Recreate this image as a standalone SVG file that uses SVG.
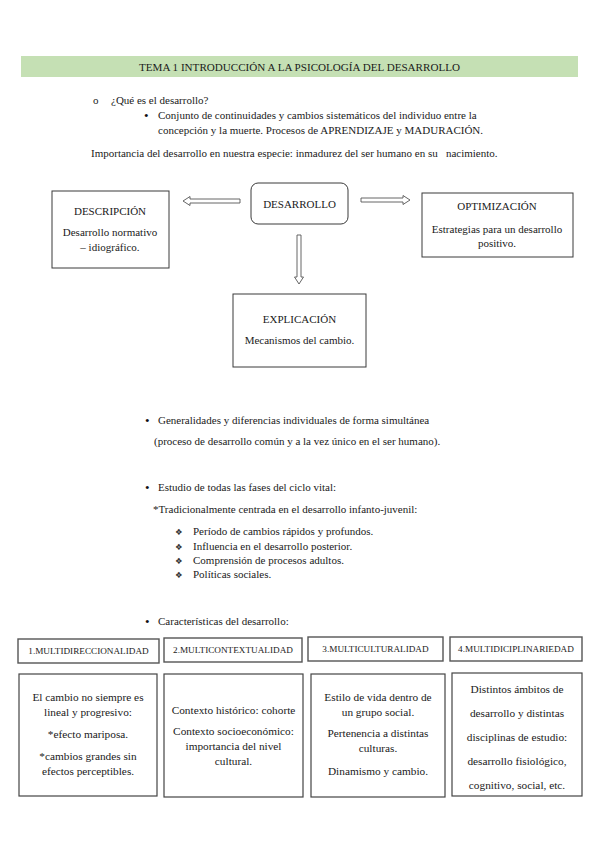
<svg xmlns="http://www.w3.org/2000/svg" width="599" height="848" viewBox="0 0 599 848">
<style>
text{font-family:"Liberation Serif","Times New Roman",serif;fill:#1a1a1a;font-size:11px}
.c{text-anchor:middle}
.b{font-size:13px;fill:#111}
.box{fill:#fff;stroke:#3a3a3a;stroke-width:1}
.hbox{fill:#fff;stroke:#555;stroke-width:1.4}
.cbox{fill:#fff;stroke:#444;stroke-width:1.2}
.arrow{fill:#fff;stroke:#555;stroke-width:0.9;stroke-linejoin:miter}
.sm{font-size:9.2px}
.bt{font-size:11.3px}
.dia{font-family:"DejaVu Sans",sans-serif;font-size:8.5px;fill:#333}
</style>
<rect x="21" y="56" width="557" height="21" fill="#c5e0b4"/>
<text x="299.5" y="70.5" class="c" style="font-size:11.1px">TEMA 1 INTRODUCCIÓN A LA PSICOLOGÍA DEL DESARROLLO</text>

<text x="93" y="104">o</text>
<text x="111" y="104">¿Qué es el desarrollo?</text>
<text x="144" y="119.5" class="b">•</text>
<text x="158" y="119">Conjunto de continuidades y cambios sistemáticos del individuo entre la</text>
<text x="158" y="134">concepción y la muerte. Procesos de APRENDIZAJE y MADURACIÓN.</text>
<text x="91" y="157" xml:space="preserve">Importancia del desarrollo en nuestra especie: inmadurez del ser humano en su   nacimiento.</text>

<g id="connectors">
<polygon class="arrow" points="240,199 190,199 190,196.5 183,201 190,205.5 190,203 240,203"/>
<polygon class="arrow" points="361,198 403,198 403,195.5 410,200 403,204.5 403,202 361,202"/>
<polygon class="arrow" points="297,235 301,235 301,277 303.5,277 299,284 294.5,277 297,277"/>
</g>

<g id="desarrollo">
<rect class="box" x="251" y="183" width="97" height="41" rx="7"/>
<text x="299.5" y="208" class="c">DESARROLLO</text>
</g>
<g id="descripcion">
<rect class="box" x="52" y="191" width="117" height="77"/>
<text x="110" y="215" class="c">DESCRIPCIÓN</text>
<text x="110" y="236" class="c">Desarrollo normativo</text>
<text x="110" y="251" class="c">– idiográfico.</text>
</g>
<g id="optimizacion">
<rect class="box" x="422" y="193" width="151" height="64"/>
<text x="497" y="210" class="c">OPTIMIZACIÓN</text>
<text x="497" y="233" class="c">Estrategias para un desarrollo</text>
<text x="497" y="247" class="c">positivo.</text>
</g>
<g id="explicacion">
<rect class="box" x="233" y="294" width="133" height="73"/>
<text x="299.5" y="323" class="c">EXPLICACIÓN</text>
<text x="299.5" y="344" class="c">Mecanismos del cambio.</text>
</g>

<text x="145" y="424.5" class="b">•</text>
<text x="158" y="424">Generalidades y diferencias individuales de forma simultánea</text>
<text x="154" y="445">(proceso de desarrollo común y a la vez único en el ser humano).</text>
<text x="145" y="491.5" class="b">•</text>
<text x="158" y="491">Estudio de todas las fases del ciclo vital:</text>
<text x="153" y="513">*Tradicionalmente centrada en el desarrollo infanto-juvenil:</text>
<text x="175" y="535" class="dia">❖</text>
<text x="193" y="535">Período de cambios rápidos y profundos.</text>
<text x="175" y="550" class="dia">❖</text>
<text x="193" y="550">Influencia en el desarrollo posterior.</text>
<text x="175" y="564" class="dia">❖</text>
<text x="193" y="564">Comprensión de procesos adultos.</text>
<text x="175" y="578" class="dia">❖</text>
<text x="193" y="578">Políticas sociales.</text>

<text x="145" y="625.5" class="b">•</text>
<text x="158" y="625">Características del desarrollo:</text>

<g id="multidireccionalidad">
<rect class="hbox" x="18" y="639" width="141" height="24"/>
<text x="88.5" y="654" class="c sm">1.MULTIDIRECCIONALIDAD</text>
<rect class="cbox" x="19" y="674" width="138" height="122"/>
<text x="88" y="701" class="c bt">El cambio no siempre es</text>
<text x="88" y="716" class="c bt">lineal y progresivo:</text>
<text x="88" y="738" class="c bt">*efecto mariposa.</text>
<text x="88" y="760" class="c bt">*cambios grandes sin</text>
<text x="88" y="775" class="c bt">efectos perceptibles.</text>
</g>
<g id="multicontextualidad">
<rect class="hbox" x="164" y="638" width="138" height="24"/>
<text x="233" y="653" class="c sm">2.MULTICONTEXTUALIDAD</text>
<rect class="cbox" x="164" y="674" width="139" height="123"/>
<text x="233.5" y="714" class="c bt">Contexto histórico: cohorte</text>
<text x="233.5" y="735" class="c bt">Contexto socioeconómico:</text>
<text x="233.5" y="750" class="c bt">importancia del nivel</text>
<text x="233.5" y="765" class="c bt">cultural.</text>
</g>
<g id="multiculturalidad">
<rect class="hbox" x="308" y="637" width="135" height="24"/>
<text x="375.5" y="652" class="c sm">3.MULTICULTURALIDAD</text>
<rect class="cbox" x="311" y="674" width="134" height="123"/>
<text x="378" y="701" class="c bt">Estilo de vida dentro de</text>
<text x="378" y="716" class="c bt">un grupo social.</text>
<text x="378" y="737" class="c bt">Pertenencia a distintas</text>
<text x="378" y="752" class="c bt">culturas.</text>
<text x="378" y="775" class="c bt">Dinamismo y cambio.</text>
</g>
<g id="multidisciplinariedad">
<rect class="hbox" x="450" y="637" width="132" height="24"/>
<text x="516" y="652" class="c sm">4.MULTIDICIPLINARIEDAD</text>
<rect class="cbox" x="452" y="673" width="130" height="123"/>
<text x="517" y="693" class="c bt">Distintos ámbitos de</text>
<text x="517" y="717" class="c bt">desarrollo y distintas</text>
<text x="517" y="741" class="c bt">disciplinas de estudio:</text>
<text x="517" y="765" class="c bt">desarrollo fisiológico,</text>
<text x="517" y="789" class="c bt">cognitivo, social, etc.</text>
</g>
</svg>
